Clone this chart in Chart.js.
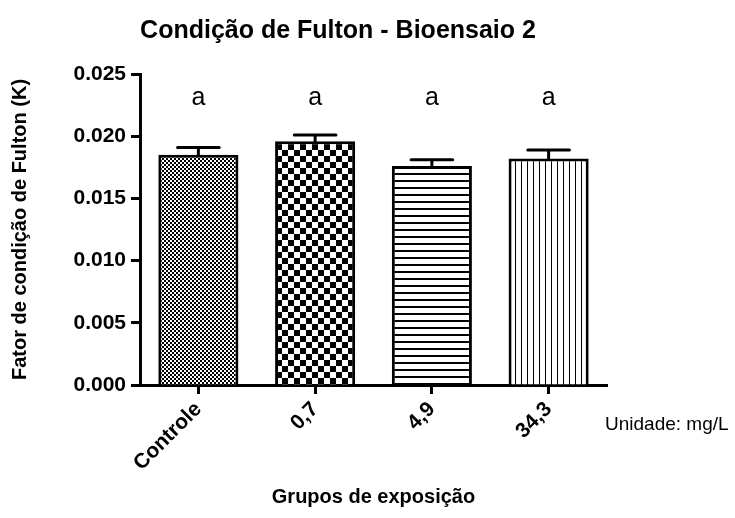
<!DOCTYPE html>
<html>
<head>
<meta charset="utf-8">
<script src="https://cdn.jsdelivr.net/npm/chart.js@4.4.0/dist/chart.umd.min.js"></script>
<style>
  html, body { margin: 0; padding: 0; background: #fff; }
  canvas { display: block; }
</style>
</head>
<body>
<canvas id="chart" width="735" height="518"></canvas>
<script>
// Data
const groups = ['Controle', '0,7', '4,9', '34,3'];
const fultonK = [0.0185, 0.0196, 0.0176, 0.0182];
const fultonSem = [0.0006, 0.0005, 0.0005, 0.0007];
const groupLetters = ['a', 'a', 'a', 'a'];
const yTicks = [0, 0.005, 0.010, 0.015, 0.020, 0.025];

const FONT = '"Liberation Sans", Arial, sans-serif';
const canvas = document.getElementById('chart');
const ctx = canvas.getContext('2d');

// Small tiles used as bar fills (GraphPad style hatching)
function makePattern(size, draw) {
    const c = document.createElement('canvas');
    c.width = size;
    c.height = size;
    const g = c.getContext('2d');
    g.fillStyle = '#fff';
    g.fillRect(0, 0, size, size);
    g.fillStyle = '#000';
    draw(g, size);
    return ctx.createPattern(c, 'repeat');
}

const fills = [
    makePattern(4, g => { g.fillRect(0, 0, 2, 2); g.fillRect(2, 2, 2, 2); }),
    makePattern(12, g => { g.fillRect(0, 0, 6, 6); g.fillRect(6, 6, 6, 6); }),
    makePattern(7, g => { g.fillRect(0, 5, 7, 2); }),
    makePattern(6, g => { g.fillRect(5, 0, 1, 6); })
];

// Error bars (upper only) and the group letters above the bars
const errorBars = {
    id: 'errorBars',
    afterDatasetsDraw(chart) {
        const c = chart.ctx;
        const y = chart.scales.y;
        const meta = chart.getDatasetMeta(0);
        c.save();
        c.strokeStyle = '#000';
        c.lineWidth = 3;
        c.lineCap = 'round';
        meta.data.forEach((bar, i) => {
            const top = y.getPixelForValue(fultonK[i] + fultonSem[i]);
            const half = bar.width * 0.26;
            c.beginPath();
            c.moveTo(bar.x, bar.y);
            c.lineTo(bar.x, top);
            c.moveTo(bar.x - half, top);
            c.lineTo(bar.x + half, top);
            c.stroke();
        });
        c.fillStyle = '#000';
        c.font = '25px ' + FONT;
        c.textAlign = 'center';
        c.textBaseline = 'alphabetic';
        meta.data.forEach((bar, i) => {
            c.fillText(groupLetters[i], bar.x, chart.chartArea.top + 31);
        });
        c.restore();
    }
};

// Title and unit note
const extraText = {
    id: 'extraText',
    afterDraw(chart) {
        const c = chart.ctx;
        c.save();
        c.fillStyle = '#000';
        c.textBaseline = 'middle';
        c.textAlign = 'center';
        c.font = 'bold 25px ' + FONT;
        c.fillText('Condição de Fulton - Bioensaio 2', 338, 31);
        c.textAlign = 'left';
        c.font = '19px ' + FONT;
        c.fillText('Unidade: mg/L', 605, 425);
        c.restore();
    }
};

new Chart(ctx, {
    type: 'bar',
    data: {
        labels: groups,
        datasets: [{
            data: fultonK,
            backgroundColor: fills,
            borderColor: '#000',
            borderWidth: 3,
            borderSkipped: 'bottom',
            barPercentage: 0.686,
            categoryPercentage: 1
        }]
    },
    options: {
        responsive: false,
        animation: false,
        layout: { padding: { top: 74, right: 128, bottom: 0, left: 0 } },
        plugins: {
            legend: { display: false },
            tooltip: { enabled: false },
            title: { display: false }
        },
        scales: {
            x: {
                grid: {
                    offset: false,
                    drawOnChartArea: false,
                    drawTicks: true,
                    tickLength: 9,
                    tickWidth: 3,
                    tickColor: '#000'
                },
                border: { display: true, color: '#000', width: 3 },
                ticks: {
                    minRotation: 45,
                    maxRotation: 45,
                    padding: 3,
                    color: '#000',
                    font: { family: FONT, size: 21, weight: 'bold' }
                },
                title: {
                    display: true,
                    text: 'Grupos de exposição',
                    color: '#000',
                    font: { family: FONT, size: 20, weight: 'bold' },
                    padding: { top: 4, bottom: 9 }
                },
                afterFit(scale) { scale.height = 133; }
            },
            y: {
                min: 0,
                max: 0.025,
                afterBuildTicks(scale) { scale.ticks = yTicks.map(v => ({ value: v })); },
                grid: {
                    drawOnChartArea: false,
                    drawTicks: true,
                    tickLength: 9,
                    tickWidth: 3,
                    tickColor: '#000'
                },
                border: { display: true, color: '#000', width: 3 },
                ticks: {
                    padding: 5,
                    color: '#000',
                    font: { family: FONT, size: 21, weight: 'bold' },
                    callback: v => v.toFixed(3)
                },
                title: {
                    display: true,
                    text: 'Fator de condição de Fulton (K)',
                    color: '#000',
                    font: { family: FONT, size: 20, weight: 'bold' },
                    padding: { top: 8, bottom: 0 }
                },
                afterFit(scale) { scale.width = 140; }
            }
        }
    },
    plugins: [errorBars, extraText]
});
</script>
</body>
</html>
